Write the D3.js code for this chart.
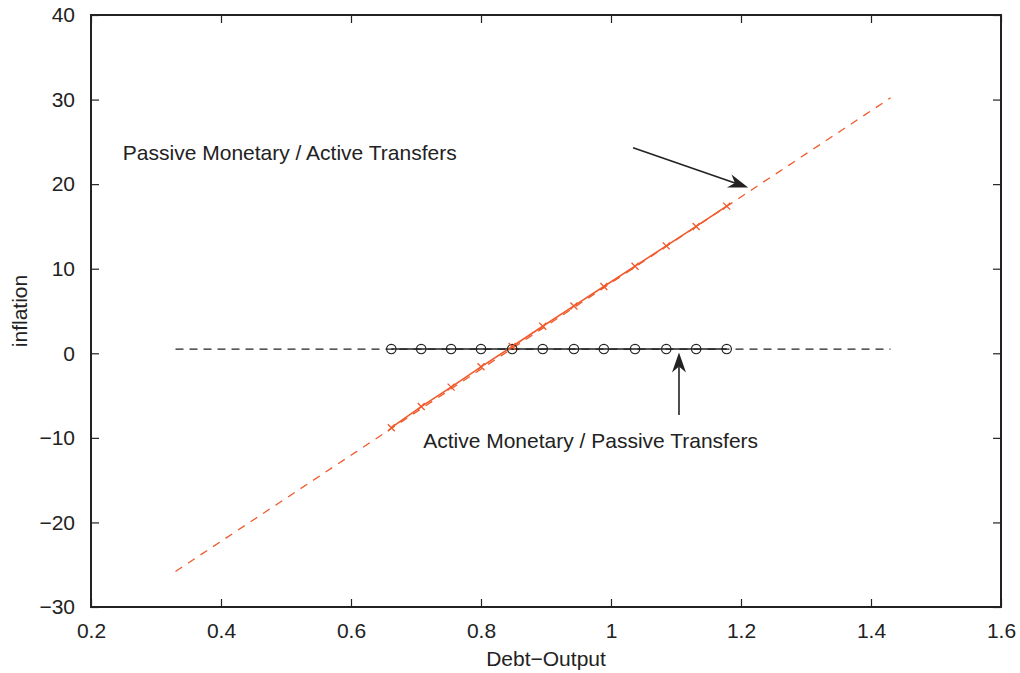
<!DOCTYPE html>
<html>
<head>
<meta charset="utf-8">
<script src="https://cdn.jsdelivr.net/npm/d3@7"></script>
<style>
  body { margin: 0; background: #fff; }
  text { font-family: "Liberation Sans", Arial, sans-serif; fill: #222; }
</style>
</head>
<body>
<div id="chart"></div>
<script>
// ---------------------------------------------------------------- data
var xTicks = [0.2, 0.4, 0.6, 0.8, 1, 1.2, 1.4, 1.6];
var yTicks = [-30, -20, -10, 0, 10, 20, 30, 40];

// simulated points (markers)
var debt = [0.662, 0.708, 0.754, 0.800, 0.848, 0.895, 0.943, 0.989, 1.037, 1.085, 1.131, 1.178];
var inflPassiveMon = [-8.8, -6.3, -4.0, -1.6, 0.8, 3.2, 5.6, 7.9, 10.3, 12.7, 15.0, 17.4];
var inflActiveMon = [0.5, 0.5, 0.5, 0.5, 0.5, 0.5, 0.5, 0.5, 0.5, 0.5, 0.5, 0.5];

// analytic lines (dashed), endpoints
var lineDebt = [0.33, 1.43];
var linePassiveMon = [-25.8, 30.2];
var lineActiveMon = [0.5, 0.5];

// annotations: label, label position, arrow from -> to
var labels = ["Passive Monetary / Active Transfers", "Active Monetary / Passive Transfers"];
var labelPos = [[0.249, 22.8], [0.711, -11.2]];
var arrowFrom = [[1.034, 24.3], [1.1046, -7.3]];
var arrowTo = [[1.211, 19.6], [1.1046, 0.1]];

// ---------------------------------------------------------------- setup
var width = 1020, height = 673;
var margin = {left: 91, right: 19, top: 15, bottom: 66};
var red = "#f05a2b";
var fontSize = "21px";

var svg = d3.select("#chart").append("svg")
    .attr("width", width)
    .attr("height", height);

var x = d3.scaleLinear().domain([0.2, 1.6]).range([margin.left, width - margin.right]);
var y = d3.scaleLinear().domain([-30, 40]).range([height - margin.bottom, margin.top]);

// ---------------------------------------------------------------- axes (ticks inward, mirrored)
var tickLen = 8;
var axisColor = "#222";

svg.append("g")
    .attr("transform", "translate(0," + y(-30) + ")")
    .call(d3.axisBottom(x).tickValues(xTicks).tickSizeInner(-tickLen).tickSizeOuter(0).tickPadding(16)
        .tickFormat(d3.format("")))
    .call(g => g.select(".domain").remove())
    .call(g => g.selectAll("text").style("font-size", fontSize).attr("fill", "#222"));

svg.append("g")
    .attr("transform", "translate(0," + y(40) + ")")
    .call(d3.axisTop(x).tickValues(xTicks).tickSizeInner(-tickLen).tickSizeOuter(0).tickFormat(""))
    .call(g => g.select(".domain").remove());

svg.append("g")
    .attr("transform", "translate(" + x(0.2) + ",0)")
    .call(d3.axisLeft(y).tickValues(yTicks).tickSizeInner(-tickLen).tickSizeOuter(0).tickPadding(16)
        .tickFormat(d => d < 0 ? "\u2212" + Math.abs(d) : d))
    .call(g => g.select(".domain").remove())
    .call(g => g.selectAll("text").style("font-size", fontSize).attr("fill", "#222"));

svg.append("g")
    .attr("transform", "translate(" + x(1.6) + ",0)")
    .call(d3.axisRight(y).tickValues(yTicks).tickSizeInner(-tickLen).tickSizeOuter(0).tickFormat(""))
    .call(g => g.select(".domain").remove());

svg.selectAll(".tick line").attr("stroke", axisColor).attr("stroke-width", 1.2);

// frame
svg.append("rect")
    .attr("x", x(0.2))
    .attr("y", y(40))
    .attr("width", x(1.6) - x(0.2))
    .attr("height", y(-30) - y(40))
    .attr("fill", "none")
    .attr("stroke", axisColor)
    .attr("stroke-width", 2);

// axis titles
svg.append("text")
    .attr("x", x(0.9))
    .attr("y", 666)
    .attr("text-anchor", "middle")
    .style("font-size", fontSize)
    .text("Debt\u2212Output");

svg.append("text")
    .attr("transform", "translate(27," + y(5) + ") rotate(-90)")
    .attr("text-anchor", "middle")
    .style("font-size", fontSize)
    .text("inflation");

// ---------------------------------------------------------------- lines
var line = d3.line().x(d => x(d[0])).y(d => y(d[1]));

// dashed analytic lines
svg.append("path")
    .datum(d3.zip(lineDebt, lineActiveMon))
    .attr("d", line)
    .attr("fill", "none")
    .attr("stroke", "#222")
    .attr("stroke-width", 1.2)
    .attr("stroke-dasharray", "8,6");

svg.append("path")
    .datum(d3.zip(lineDebt, linePassiveMon))
    .attr("d", line)
    .attr("fill", "none")
    .attr("stroke", red)
    .attr("stroke-width", 1.3)
    .attr("stroke-dasharray", "8,7");

// solid simulated lines
var activeData = d3.zip(debt, inflActiveMon);
var passiveData = d3.zip(debt, inflPassiveMon);

svg.append("path")
    .datum(activeData)
    .attr("d", line)
    .attr("fill", "none")
    .attr("stroke", "#222")
    .attr("stroke-width", 1.5);

svg.append("path")
    .datum(passiveData)
    .attr("d", line)
    .attr("fill", "none")
    .attr("stroke", red)
    .attr("stroke-width", 1.6);

// circle markers
svg.append("g")
    .selectAll("circle")
    .data(activeData)
    .enter()
    .append("circle")
        .attr("cx", d => x(d[0]))
        .attr("cy", d => y(d[1]))
        .attr("r", 4.7)
        .attr("fill", "none")
        .attr("stroke", "#222")
        .attr("stroke-width", 1.2);

// x markers
var s = 3.5;
svg.append("g")
    .selectAll("path")
    .data(passiveData)
    .enter()
    .append("path")
        .attr("d", d => {
            var cx = x(d[0]), cy = y(d[1]);
            return "M" + (cx - s) + "," + (cy - s) + "L" + (cx + s) + "," + (cy + s) +
                   "M" + (cx - s) + "," + (cy + s) + "L" + (cx + s) + "," + (cy - s);
        })
        .attr("stroke", red)
        .attr("stroke-width", 1.3);

// ---------------------------------------------------------------- annotations
labels.forEach(function(t, i) {
    svg.append("text")
        .attr("x", x(labelPos[i][0]))
        .attr("y", y(labelPos[i][1]))
        .style("font-size", fontSize)
        .text(t);

    var x1 = x(arrowFrom[i][0]), y1 = y(arrowFrom[i][1]),
        x2 = x(arrowTo[i][0]), y2 = y(arrowTo[i][1]);
    var ang = Math.atan2(y2 - y1, x2 - x1);
    var headLen = 20, headW = 7, notch = 14;

    svg.append("line")
        .attr("x1", x1).attr("y1", y1)
        .attr("x2", x2 - Math.cos(ang) * notch).attr("y2", y2 - Math.sin(ang) * notch)
        .attr("stroke", "#222")
        .attr("stroke-width", 1.6);

    // arrow head with concave back
    var c = Math.cos(ang), sn = Math.sin(ang);
    function pt(a, b) { return [x2 + a * c - b * sn, y2 + a * sn + b * c]; }
    var p = [pt(0, 0), pt(-headLen, -headW), pt(-notch, 0), pt(-headLen, headW)];
    svg.append("path")
        .attr("d", "M" + p.map(q => q.join(",")).join("L") + "Z")
        .attr("fill", "#222");
});
</script>
</body>
</html>
